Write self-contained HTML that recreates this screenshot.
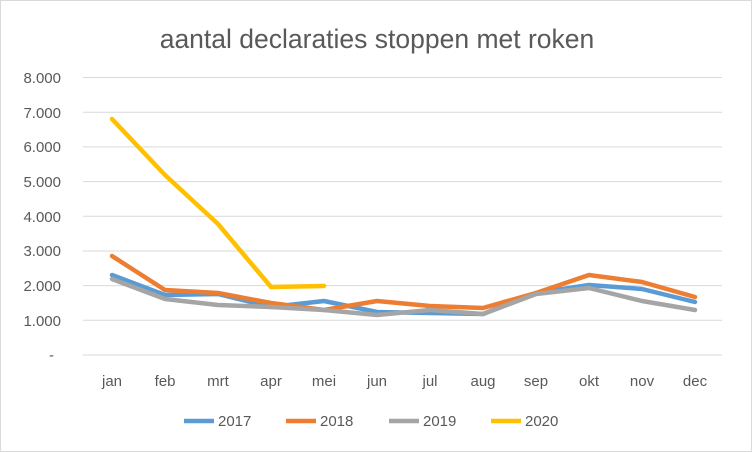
<!DOCTYPE html>
<html><head><meta charset="utf-8"><style>
body{margin:0;background:#fff}
svg{display:block}
text{font-family:"Liberation Sans",sans-serif;fill:#595959}
</style></head><body>
<svg width="752" height="452" viewBox="0 0 752 452">
<rect x="0.5" y="0.5" width="751" height="451" fill="#fff" stroke="#d9d9d9"/>
<text x="377" y="48" text-anchor="middle" font-size="26.5">aantal declaraties stoppen met roken</text>
<g stroke="#d9d9d9" stroke-width="1">
<line x1="83" x2="722" y1="77.5" y2="77.5"/><line x1="83" x2="722" y1="112.2" y2="112.2"/>
<line x1="83" x2="722" y1="146.9" y2="146.9"/><line x1="83" x2="722" y1="181.6" y2="181.6"/>
<line x1="83" x2="722" y1="216.3" y2="216.3"/><line x1="83" x2="722" y1="251" y2="251"/>
<line x1="83" x2="722" y1="285.6" y2="285.6"/><line x1="83" x2="722" y1="320.3" y2="320.3"/>
<line x1="83" x2="722" y1="355" y2="355"/>
</g>
<g font-size="15" text-anchor="end">
<text x="61" y="83">8.000</text><text x="61" y="118">7.000</text><text x="61" y="152">6.000</text>
<text x="61" y="187">5.000</text><text x="61" y="222">4.000</text><text x="61" y="256">3.000</text>
<text x="61" y="291">2.000</text><text x="61" y="326">1.000</text><text x="54" y="360">-</text>
</g>
<g font-size="15" text-anchor="middle">
<text x="112" y="386">jan</text><text x="165" y="386">feb</text><text x="218" y="386">mrt</text>
<text x="271" y="386">apr</text><text x="324" y="386">mei</text><text x="377" y="386">jun</text>
<text x="430" y="386">jul</text><text x="483" y="386">aug</text><text x="536" y="386">sep</text>
<text x="589" y="386">okt</text><text x="642" y="386">nov</text><text x="695" y="386">dec</text>
</g>
<g fill="none" stroke-width="4.5" stroke-linejoin="round" stroke-linecap="round">
<polyline stroke="#5b9bd5" points="112,275 165,295 218,294 271,307 324,301 377,312 430,313 483,314 536,293 589,285 642,289 695,302"/>
<polyline stroke="#ed7d31" points="112,256 165,290 218,293 271,303 324,310 377,301 430,306 483,308 536,293 589,275 642,282 695,297"/>
<polyline stroke="#a5a5a5" points="112,279 165,299 218,305 271,307 324,310 377,315 430,310 483,314 536,294 589,288 642,301 695,310"/>
<polyline stroke="#ffc000" points="112,119 165,175 218,224 271,287 324,286"/>
</g>
<g stroke-width="4.5">
<line x1="184" x2="214" y1="421" y2="421" stroke="#5b9bd5"/>
<line x1="286" x2="316" y1="421" y2="421" stroke="#ed7d31"/>
<line x1="389" x2="419" y1="421" y2="421" stroke="#a5a5a5"/>
<line x1="491" x2="521" y1="421" y2="421" stroke="#ffc000"/>
</g>
<g font-size="15">
<text x="218" y="426">2017</text><text x="320" y="426">2018</text>
<text x="423" y="426">2019</text><text x="525" y="426">2020</text>
</g>
</svg>
</body></html>
